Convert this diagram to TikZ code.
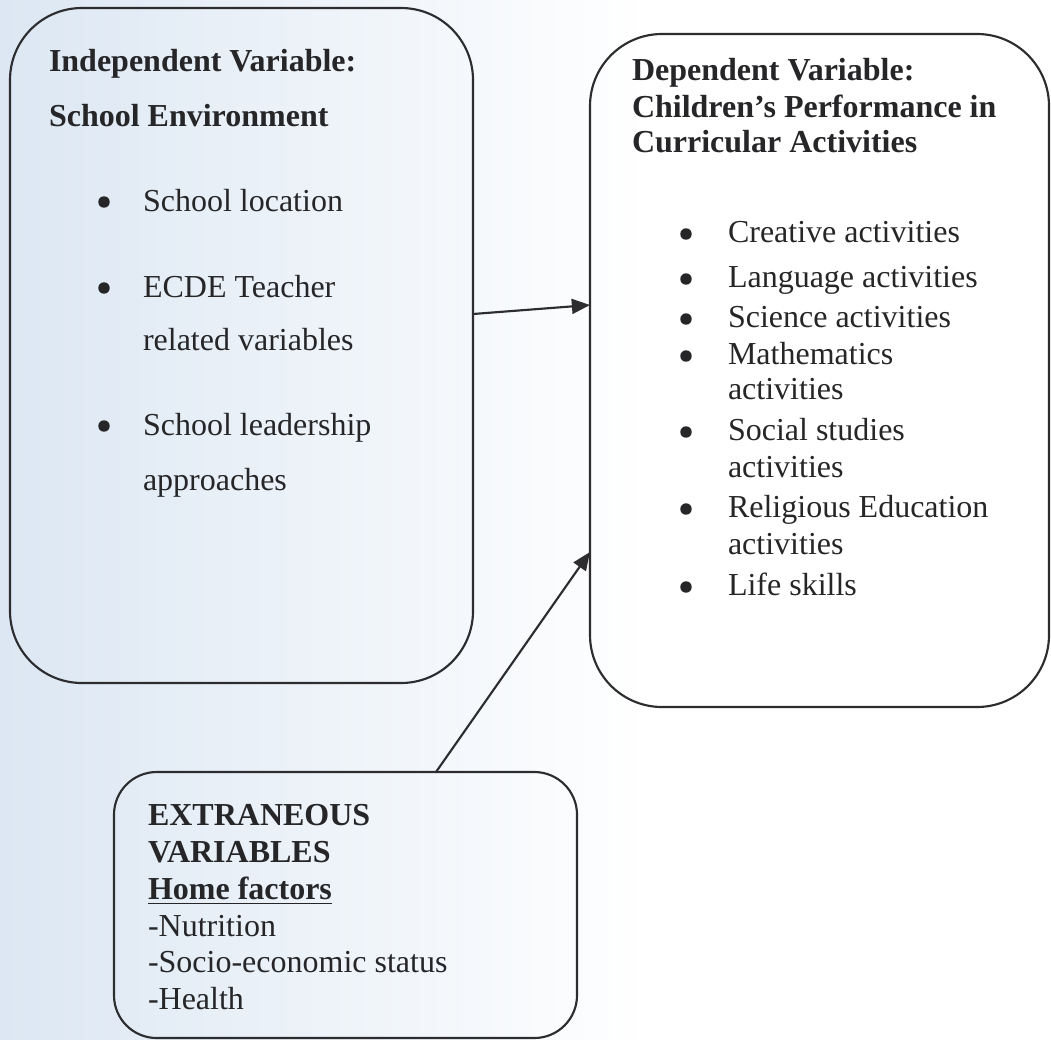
\documentclass[tikz,border=0pt]{standalone}
\usepackage{fontspec}
\setmainfont{Liberation Serif}
\usetikzlibrary{arrows.meta,calc}
\definecolor{ink}{RGB}{38,38,40}
\definecolor{lineink}{RGB}{45,45,48}
\definecolor{bgblue}{RGB}{220,231,243}
\begin{document}
\begin{tikzpicture}[x=0.375pt,y=-0.375pt,
  boxstyle/.style={draw=lineink,line width=0.8pt,inner sep=0pt,outer sep=0pt},
  bigbox/.style={boxstyle,rounded corners=27pt},
  smallbox/.style={boxstyle,rounded corners=16pt},
  txt/.style={anchor=base west,inner sep=0pt,outer sep=0pt,text=ink,font=\fontsize{12}{14}\selectfont},
  btxt/.style={txt,font=\fontsize{12}{14}\selectfont\bfseries},
  bul/.style={circle,fill=ink,draw=none,inner sep=0pt,outer sep=0pt,minimum size=4.3pt},
  arr/.style={draw=lineink,line width=0.8pt,-{Triangle[length=6.8pt,width=5.6pt]}}
]
\useasboundingbox (0,0) rectangle (1051,1039);
\shade[left color=bgblue,right color=white,draw=none] (0,0) rectangle (650,1039);
\fill[white] (650,0) rectangle (1051,1039);

% boxes
\node[bigbox,minimum width=463*0.375pt,minimum height=675*0.375pt] (L) at (241.5,345.5) {};
\node[bigbox,minimum width=459*0.375pt,minimum height=673*0.375pt] (R) at (819.5,370.5) {};
\node[smallbox,minimum width=463*0.375pt,minimum height=266*0.375pt] (B) at (345.5,905) {};

% left box text
\node[btxt] (l1) at (49,71) {Independent Variable:};
\node[btxt] (l2) at (49,126) {School Environment};
\node[bul] (lb1) at (104,202) {};
\node[txt] (l3) at (143,211) {School location};
\node[bul] (lb2) at (104,288) {};
\node[txt] (l4) at (143,297) {ECDE Teacher};
\node[txt] (l5) at (143,350) {related variables};
\node[bul] (lb3) at (104,426) {};
\node[txt] (l6) at (143,435) {School leadership};
\node[txt] (l7) at (143,490) {approaches};

% right box text
\node[btxt] (r1) at (632,80) {Dependent Variable:};
\node[btxt] (r2) at (632,117) {Children’s Performance in};
\node[btxt] (r3) at (632,152) {Curricular Activities};
\node[bul] (rb1) at (686,234) {};
\node[txt] (r4) at (728,242) {Creative activities};
\node[bul] (rb2) at (686,279) {};
\node[txt] (r5) at (728,287) {Language activities};
\node[bul] (rb3) at (686,319) {};
\node[txt] (r6) at (728,327) {Science activities};
\node[bul] (rb4) at (686,356) {};
\node[txt] (r7) at (728,364) {Mathematics};
\node[txt] (r8) at (728,399) {activities};
\node[bul] (rb5) at (686,432) {};
\node[txt] (r9) at (728,440) {Social studies};
\node[txt] (r10) at (728,477) {activities};
\node[bul] (rb6) at (686,509) {};
\node[txt] (r11) at (728,517) {Religious Education};
\node[txt] (r12) at (728,554) {activities};
\node[bul] (rb7) at (686,587) {};
\node[txt] (r13) at (728,595) {Life skills};

% bottom box text
\node[btxt] (b1) at (148,825) {EXTRANEOUS};
\node[btxt] (b2) at (148,862) {VARIABLES};
\node[btxt] (b3) at (148,899) {\underline{Home factors}};
\node[txt] (b4) at (148,936) {-Nutrition};
\node[txt] (b5) at (148,972) {-Socio-economic status};
\node[txt] (b6) at (148,1009) {-Health};

% connectors
\draw[arr] ($(L.east)+(0,-31.5)$) -- ($(R.west)+(0,-65.5)$);
\draw[arr] ($(B.north)+(90.5,0)$) -- ($(R.west)+(0,181.5)$);
\end{tikzpicture}
\end{document}
